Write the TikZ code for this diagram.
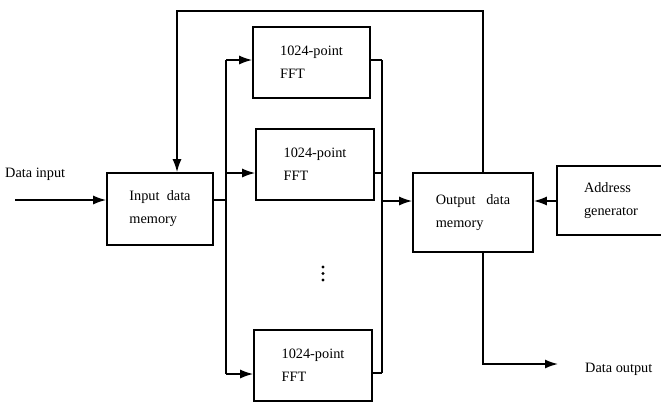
\documentclass[tikz,border=0pt]{standalone}
\usepackage{fontspec}
\setmainfont{Liberation Serif}
\usetikzlibrary{arrows.meta}
\begin{document}
\begin{tikzpicture}[x=1pt,y=-1pt,
  txt/.style={font={\fontsize{14.3pt}{23pt}\selectfont}},
  blk/.style={draw, line width=1.6pt, txt, align=left, inner sep=0pt},
  ln/.style={line width=1.6pt},
  arr/.style={line width=1.6pt, -{Latex[length=13pt,width=9pt]}},
  dotn/.style={circle, fill, inner sep=0pt, minimum size=3.4pt}]
\useasboundingbox (0,0) rectangle (661,402);
\clip (0,0) rectangle (661,402);
% blocks
\node[blk, minimum width=106pt, minimum height=72pt] (in) at (160,209) {Input~~data\\memory};
\node[blk, minimum width=117pt, minimum height=71pt] (fft1) at (311.5,62.5) {1024-point\\FFT};
\node[blk, minimum width=118pt, minimum height=71pt] (fft2) at (315,164.5) {1024-point\\FFT};
\node[blk, minimum width=118pt, minimum height=71pt] (fft3) at (313,365.5) {1024-point\\FFT};
\node[blk, minimum width=120pt, minimum height=79pt] (out) at (473,212.5) {Output~~~data\\memory};
\node[blk, minimum width=108pt, minimum height=69pt] (addr) at (611,200.5) {Address\\generator};
% labels
\node[txt, anchor=west, inner sep=0pt] (lin) at (5,174) {Data input};
\node[txt, anchor=west, inner sep=0pt] (lout) at (585,369) {Data output};
% dots
\node[dotn] (d1) at (323,267) {};
\node[dotn] (d2) at (323,273.5) {};
\node[dotn] (d3) at (323,280) {};
% coordinates
\coordinate (din) at (15,200);
\coordinate (split) at (226,200);
\coordinate (bLt) at (226,60);
\coordinate (bLm) at (226,173);
\coordinate (bLb) at (226,374);
\coordinate (bRt) at (382,60);
\coordinate (bRm) at (382,173);
\coordinate (bRb) at (382,373);
\coordinate (bRo) at (382,201);
\coordinate (fbR) at (483,11);
\coordinate (fbL) at (177,11);
\coordinate (oc) at (483,364);
\coordinate (dout) at (558,364);
% connectors
\draw[arr] (din) -- (din -| in.west);
\draw[ln] (split -| in.east) -- (split);
\draw[ln] (bLt) -- (bLb);
\draw[arr] (bLt) -- (bLt -| fft1.west);
\draw[arr] (bLm) -- (bLm -| fft2.west);
\draw[arr] (bLb) -- (bLb -| fft3.west);
\draw[ln] (bRt -| fft1.east) -- (bRt);
\draw[ln] (bRm -| fft2.east) -- (bRm);
\draw[ln] (bRb -| fft3.east) -- (bRb);
\draw[ln] (bRt) -- (bRb);
\draw[arr] (bRo) -- (bRo -| out.west);
\draw[arr] (bRo -| addr.west) -- (bRo -| out.east);
\draw[arr] (fbR |- out.north) -- (fbR) -- (fbL) -- (fbL |- in.north);
\draw[arr] (oc |- out.south) -- (oc) -- (dout);
\end{tikzpicture}
\end{document}
